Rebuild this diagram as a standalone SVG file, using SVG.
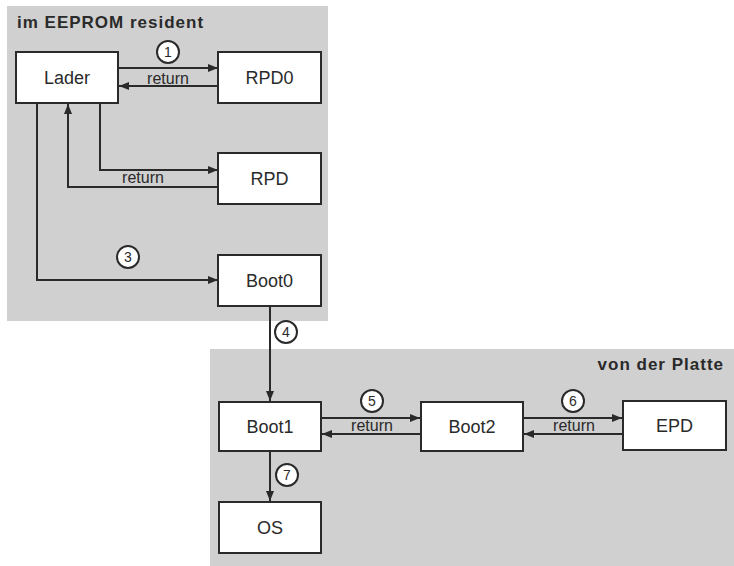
<svg xmlns="http://www.w3.org/2000/svg" width="734" height="566" viewBox="0 0 734 566">
<defs>
<marker id="ah" viewBox="0 0 10 8" refX="10" refY="4" markerWidth="10" markerHeight="8" markerUnits="userSpaceOnUse" orient="auto">
<path d="M0,0 L10,4 L0,8 z" fill="#2a2a2a"/>
</marker>
<style>
.panel{fill:#d0d0d0;stroke:none}
.box{fill:#ffffff;stroke:#2a2a2a;stroke-width:2}
.lbl{font-family:"Liberation Sans",Arial,sans-serif;font-size:18px;fill:#2a2a2a;text-anchor:middle}
.ret{font-family:"Liberation Sans",Arial,sans-serif;font-size:16px;fill:#2a2a2a;text-anchor:middle}
.ttl{font-family:"Liberation Sans",Arial,sans-serif;font-size:17px;font-weight:bold;letter-spacing:1px;fill:#2a2a2a}
.num{font-family:"Liberation Sans",Arial,sans-serif;font-size:14px;fill:#2a2a2a;text-anchor:middle}
.circ{fill:#ffffff;stroke:#2a2a2a;stroke-width:2}
.ln{fill:none;stroke:#2a2a2a;stroke-width:2}
.arr{fill:none;stroke:#2a2a2a;stroke-width:2;marker-end:url(#ah)}
</style>
</defs>
<rect width="734" height="566" fill="#ffffff"/>
<g id="panel-eeprom">
<rect class="panel" x="7" y="6" width="321" height="315"/>
<text class="ttl" x="17" y="28">im EEPROM resident</text>
</g>
<g id="panel-platte">
<rect class="panel" x="210" y="349" width="524" height="217"/>
<text class="ttl" x="724" y="370" text-anchor="end">von der Platte</text>
</g>
<g id="connectors">
<line class="arr" x1="118" y1="68" x2="218" y2="68"/>
<line class="arr" x1="218" y1="86" x2="119" y2="86"/>
<polyline class="arr" points="100,103 100,170 218,170"/>
<polyline class="arr" points="218,187 68,187 68,104"/>
<polyline class="arr" points="37,103 37,280 218,280"/>
<line class="arr" x1="270" y1="306" x2="270" y2="401"/>
<line class="arr" x1="270" y1="451" x2="270" y2="501"/>
<line class="arr" x1="321" y1="418" x2="420" y2="418"/>
<line class="arr" x1="420" y1="434" x2="322" y2="434"/>
<line class="arr" x1="523" y1="418" x2="622" y2="418"/>
<line class="arr" x1="622" y1="434" x2="524" y2="434"/>
<text class="ret" x="168" y="84">return</text>
<text class="ret" x="143" y="183">return</text>
<text class="ret" x="372" y="431">return</text>
<text class="ret" x="574" y="431">return</text>
<circle class="circ" cx="168" cy="52" r="11"/><text class="num" x="168" y="57">1</text>
<circle class="circ" cx="128" cy="257" r="11"/><text class="num" x="128" y="262">3</text>
<circle class="circ" cx="286" cy="332" r="11"/><text class="num" x="286" y="337">4</text>
<circle class="circ" cx="372" cy="401" r="11"/><text class="num" x="372" y="406">5</text>
<circle class="circ" cx="573" cy="401" r="11"/><text class="num" x="573" y="406">6</text>
<circle class="circ" cx="287" cy="475" r="11"/><text class="num" x="287" y="480">7</text>
</g>
<g id="node-lader"><rect class="box" x="16" y="52" width="102" height="51"/><text class="lbl" x="67" y="84">Lader</text></g>
<g id="node-rpd0"><rect class="box" x="218" y="52" width="103" height="51"/><text class="lbl" x="269.5" y="84">RPD0</text></g>
<g id="node-rpd"><rect class="box" x="218" y="153" width="103" height="51"/><text class="lbl" x="269.5" y="185">RPD</text></g>
<g id="node-boot0"><rect class="box" x="218" y="255" width="103" height="51"/><text class="lbl" x="269.5" y="287">Boot0</text></g>
<g id="node-boot1"><rect class="box" x="219" y="402" width="102" height="49"/><text class="lbl" x="270" y="433">Boot1</text></g>
<g id="node-boot2"><rect class="box" x="421" y="402" width="102" height="49"/><text class="lbl" x="472" y="433">Boot2</text></g>
<g id="node-epd"><rect class="box" x="623" y="401" width="103" height="49"/><text class="lbl" x="674.5" y="432">EPD</text></g>
<g id="node-os"><rect class="box" x="219" y="502" width="102" height="51"/><text class="lbl" x="270" y="534">OS</text></g>
</svg>
